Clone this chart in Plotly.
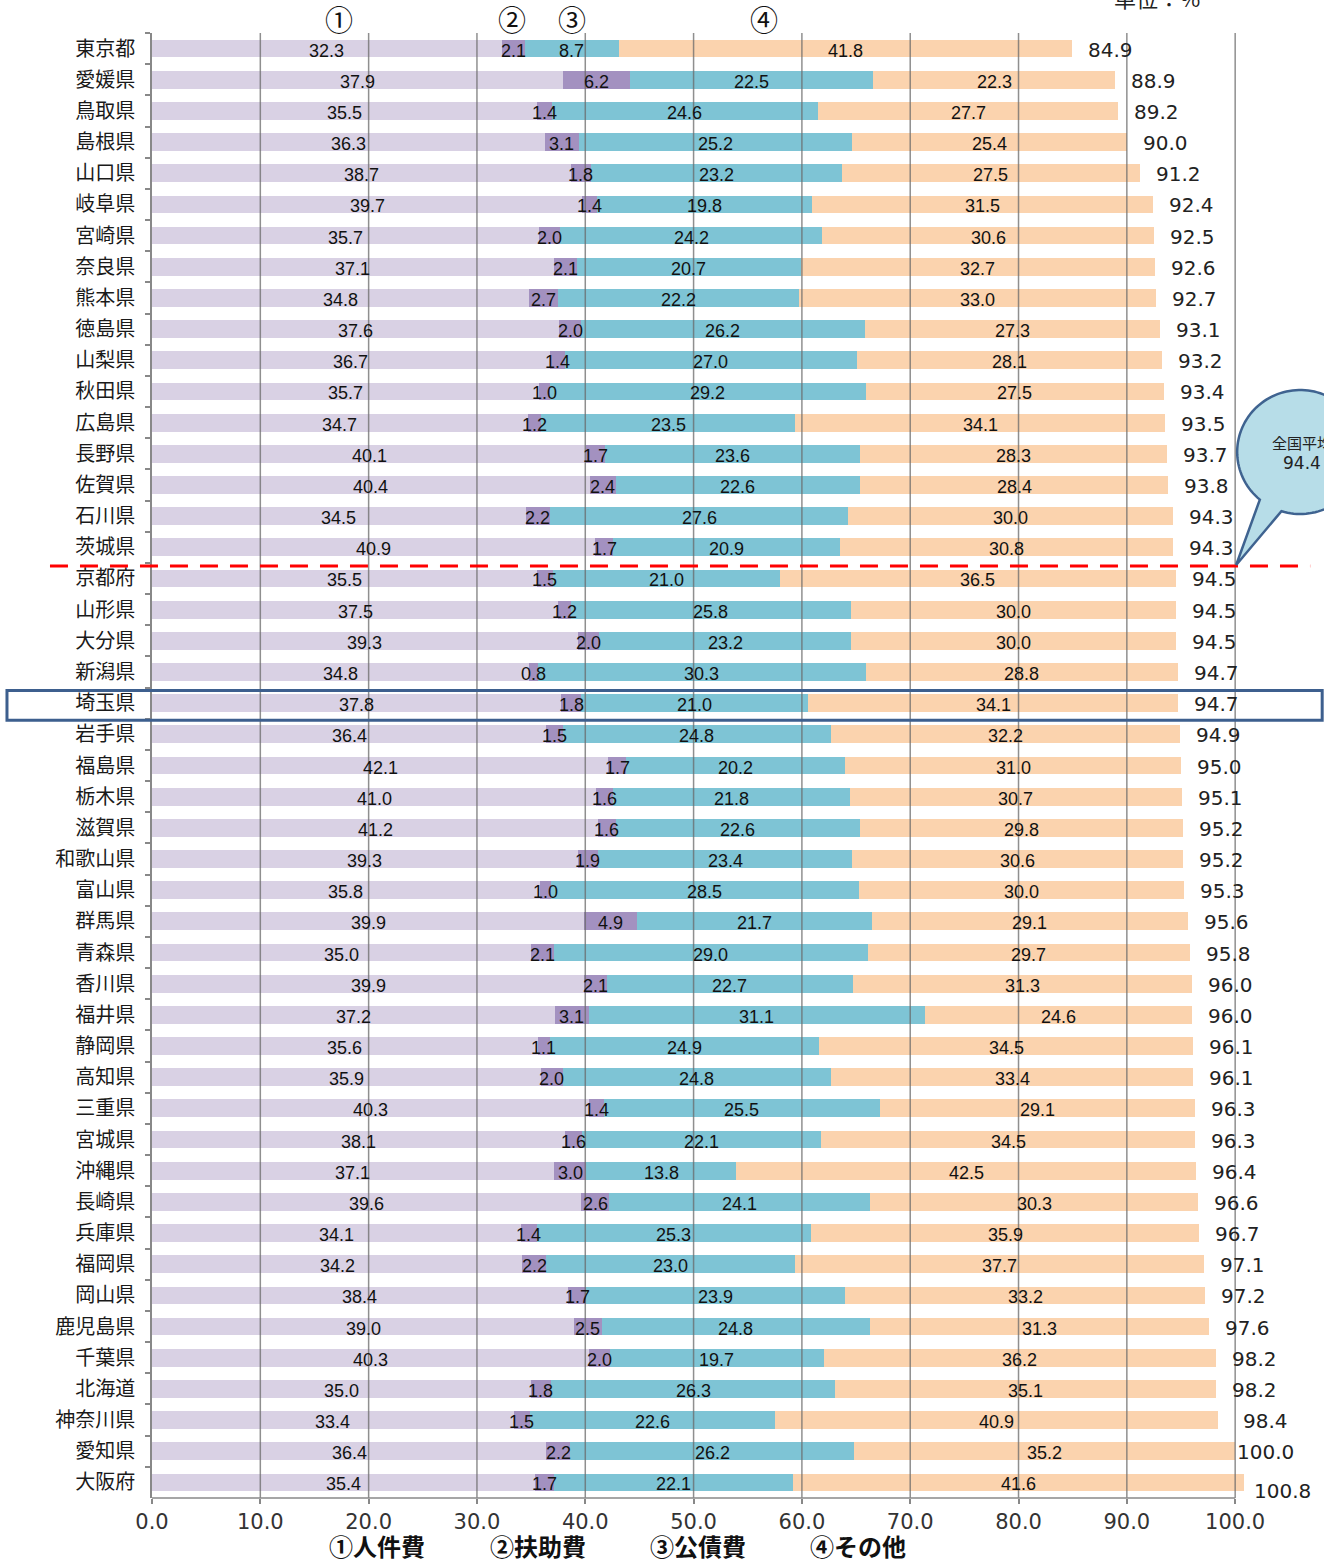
import numpy as np
import plotly.graph_objects as go

# ---- data -------------------------------------------------------------
prefectures = [
    "東京都", "愛媛県", "鳥取県", "島根県", "山口県", "岐阜県", "宮崎県", "奈良県",
    "熊本県", "徳島県", "山梨県", "秋田県", "広島県", "長野県", "佐賀県", "石川県",
    "茨城県", "京都府", "山形県", "大分県", "新潟県", "埼玉県", "岩手県", "福島県",
    "栃木県", "滋賀県", "和歌山県", "富山県", "群馬県", "青森県", "香川県", "福井県",
    "静岡県", "高知県", "三重県", "宮城県", "沖縄県", "長崎県", "兵庫県", "福岡県",
    "岡山県", "鹿児島県", "千葉県", "北海道", "神奈川県", "愛知県", "大阪府",
]
personnel = [  # ①人件費
    32.3, 37.9, 35.5, 36.3, 38.7, 39.7, 35.7, 37.1, 34.8, 37.6, 36.7, 35.7,
    34.7, 40.1, 40.4, 34.5, 40.9, 35.5, 37.5, 39.3, 34.8, 37.8, 36.4, 42.1,
    41.0, 41.2, 39.3, 35.8, 39.9, 35.0, 39.9, 37.2, 35.6, 35.9, 40.3, 38.1,
    37.1, 39.6, 34.1, 34.2, 38.4, 39.0, 40.3, 35.0, 33.4, 36.4, 35.4,
]
assistance = [  # ②扶助費
    2.1, 6.2, 1.4, 3.1, 1.8, 1.4, 2.0, 2.1, 2.7, 2.0, 1.4, 1.0,
    1.2, 1.7, 2.4, 2.2, 1.7, 1.5, 1.2, 2.0, 0.8, 1.8, 1.5, 1.7,
    1.6, 1.6, 1.9, 1.0, 4.9, 2.1, 2.1, 3.1, 1.1, 2.0, 1.4, 1.6,
    3.0, 2.6, 1.4, 2.2, 1.7, 2.5, 2.0, 1.8, 1.5, 2.2, 1.7,
]
debt = [  # ③公債費
    8.7, 22.5, 24.6, 25.2, 23.2, 19.8, 24.2, 20.7, 22.2, 26.2, 27.0, 29.2,
    23.5, 23.6, 22.6, 27.6, 20.9, 21.0, 25.8, 23.2, 30.3, 21.0, 24.8, 20.2,
    21.8, 22.6, 23.4, 28.5, 21.7, 29.0, 22.7, 31.1, 24.9, 24.8, 25.5, 22.1,
    13.8, 24.1, 25.3, 23.0, 23.9, 24.8, 19.7, 26.3, 22.6, 26.2, 22.1,
]
other = [  # ④その他
    41.8, 22.3, 27.7, 25.4, 27.5, 31.5, 30.6, 32.7, 33.0, 27.3, 28.1, 27.5,
    34.1, 28.3, 28.4, 30.0, 30.8, 36.5, 30.0, 30.0, 28.8, 34.1, 32.2, 31.0,
    30.7, 29.8, 30.6, 30.0, 29.1, 29.7, 31.3, 24.6, 34.5, 33.4, 29.1, 34.5,
    42.5, 30.3, 35.9, 37.7, 33.2, 31.3, 36.2, 35.1, 40.9, 35.2, 41.6,
]
totals = [
    84.9, 88.9, 89.2, 90.0, 91.2, 92.4, 92.5, 92.6, 92.7, 93.1, 93.2, 93.4,
    93.5, 93.7, 93.8, 94.3, 94.3, 94.5, 94.5, 94.5, 94.7, 94.7, 94.9, 95.0,
    95.1, 95.2, 95.2, 95.3, 95.6, 95.8, 96.0, 96.0, 96.1, 96.1, 96.3, 96.3,
    96.4, 96.6, 96.7, 97.1, 97.2, 97.6, 98.2, 98.2, 98.4, 100.0, 100.8,
]
series_names = ["①人件費", "②扶助費", "③公債費", "④その他"]
header_marks = ["①", "②", "③", "④"]
national_avg = 94.4
highlight = "埼玉県"
x_ticks = [0, 10, 20, 30, 40, 50, 60, 70, 80, 90, 100]

# ---- geometry / style ---------------------------------------------------
W, H = 1324, 1560
L, T, B = 152, 33, 62
X_MAX = 101
PLOT_W = 10.83 * X_MAX
R = W - L - PLOT_W
PLOT_H = H - T - B

colors = ["#D9D1E4", "#A391C0", "#7EC4D5", "#FBD3AE"]
grid_color = "rgba(105,105,105,0.75)"
axis_color = "#888888"
CJK = "Noto Sans CJK JP"
NARROW = "Liberation Sans Narrow, Arial Narrow, Liberation Sans, sans-serif"
ROUND = "DejaVu Sans, sans-serif"


def paper(px, py):
    """pixel position on the page -> paper coordinates"""
    return (px - L) / PLOT_W, (H - B - py) / PLOT_H


series = [personnel, assistance, debt, other]
vals = np.array(series, dtype=float)
lefts = np.vstack([np.zeros(len(prefectures)), np.cumsum(vals, axis=0)[:-1]])

fig = go.Figure()

# stacked segments
for name, v, c in zip(series_names, series, colors):
    fig.add_trace(go.Bar(
        y=prefectures, x=v, orientation="h", name=name,
        marker=dict(color=c, line=dict(width=0)),
        hoverinfo="skip", showlegend=False,
    ))

annotations = []
shapes = []

# value labels centred in each segment
for k, v in enumerate(series):
    for p, left, x in zip(prefectures, lefts[k], v):
        annotations.append(dict(
            x=left + x / 2, y=p, xref="x", yref="y", text=f"{x:.1f}",
            showarrow=False, xanchor="center", yanchor="middle", yshift=-2,
            font=dict(family=NARROW, size=18, color="#111111"),
        ))

# totals to the right of each bar
label_dx = {"神奈川県": 9, "愛知県": -14, "大阪府": -6}
label_dy = {"大阪府": -8}
for p, t in zip(prefectures, totals):
    annotations.append(dict(
        x=t, y=p, xref="x", yref="y", text=f"{t:.1f}", showarrow=False,
        xanchor="left", yanchor="middle",
        xshift=14 + label_dx.get(p, 0), yshift=label_dy.get(p, 0) - 1,
        font=dict(family=ROUND, size=20, color="#222222"),
    ))

# circled column marks above the chart
for mark, xpos in zip(header_marks, [17.25, 33.2, 38.75, 56.5]):
    annotations.append(dict(
        x=xpos, y=paper(0, 19)[1], xref="x", yref="paper", text=mark,
        showarrow=False, xanchor="center", yanchor="middle",
        font=dict(family=CJK, size=28, color="#111111"),
    ))

# unit note
annotations.append(dict(
    x=paper(1157, 0)[0], y=paper(0, -3)[1], xref="paper", yref="paper",
    text="単位：%", showarrow=False, xanchor="center", yanchor="middle",
    font=dict(family=CJK, size=22, color="#222222"),
))

# legend text under the axis
for name, xpos in zip(series_names, [20.8, 35.6, 50.4, 65.2]):
    annotations.append(dict(
        x=xpos, y=paper(0, 1545)[1], xref="x", yref="paper",
        text=f"<b>{name}</b>", showarrow=False, xanchor="center",
        yanchor="middle", font=dict(family=CJK, size=24, color="#111111"),
    ))

# vertical gridlines drawn over the bars
for v in x_ticks[1:]:
    shapes.append(dict(type="line", xref="x", yref="paper", x0=v, x1=v,
                       y0=0, y1=1, layer="above",
                       line=dict(color=grid_color, width=1.5)))
# bottom axis line, 0..100
shapes.append(dict(type="line", xref="x", yref="paper", x0=0, x1=100,
                   y0=0, y1=0, layer="above",
                   line=dict(color=axis_color, width=1.5)))

# national average divider
idx_avg = max(i for i, t in enumerate(totals) if t < national_avg)
x_a, _ = paper(50, 0)
x_b, _ = paper(1310, 0)
shapes.append(dict(type="line", xref="paper", yref="y", x0=x_a, x1=x_b,
                   y0=idx_avg + 0.6, y1=idx_avg + 0.6, layer="above",
                   line=dict(color="#FF0000", width=3, dash="18px,12px")))

# highlighted prefecture frame
idx_h = prefectures.index(highlight)
shapes.append(dict(type="rect", xref="paper", yref="y",
                   x0=paper(7, 0)[0], x1=paper(1322, 0)[0],
                   y0=idx_h - 0.41, y1=idx_h + 0.55, layer="above",
                   line=dict(color="#3D5F8E", width=3),
                   fillcolor="rgba(0,0,0,0)"))

# speech bubble for the national average
cx, cy, rx, ry = 1300, 452, 63, 62
tip = (1236, 565)
ts = np.radians(np.linspace(129.8, 467.3, 120))
pts = [paper(cx + rx * np.cos(t), cy + ry * np.sin(t)) for t in ts]
pts.append(paper(*tip))
path = "M " + " L ".join(f"{x:.5f},{y:.5f}" for x, y in pts) + " Z"
shapes.append(dict(type="path", xref="paper", yref="paper", path=path,
                   layer="above", fillcolor="#B7DDE8",
                   line=dict(color="#3F6390", width=2.5)))
annotations.append(dict(
    x=paper(1302, 0)[0], y=paper(0, 443)[1], xref="paper", yref="paper",
    text="全国平均", showarrow=False, xanchor="center", yanchor="middle",
    font=dict(family=CJK, size=15, color="#222222"),
))
annotations.append(dict(
    x=paper(1302, 0)[0], y=paper(0, 463)[1], xref="paper", yref="paper",
    text=f"{national_avg:.1f}", showarrow=False, xanchor="center",
    yanchor="middle", font=dict(family=ROUND, size=17, color="#222222"),
))

fig.update_layout(
    width=W, height=H,
    margin=dict(l=L, r=R, t=T, b=B, pad=0),
    barmode="stack", bargap=0.43,
    plot_bgcolor="white", paper_bgcolor="white",
    showlegend=False,
    xaxis=dict(
        range=[0, X_MAX], tickvals=x_ticks,
        ticktext=[f"{v:.1f}" for v in x_ticks],
        showgrid=False, zeroline=False, showline=False,
        ticks="outside", ticklen=5, tickcolor=axis_color, tickwidth=1.5,
        ticklabelstandoff=0,
        tickfont=dict(family=ROUND, size=21, color="#333333"),
    ),
    yaxis=dict(
        type="category", categoryorder="array", categoryarray=prefectures,
        range=[len(prefectures) - 0.5, -0.5],
        showgrid=False, zeroline=False,
        showline=True, linecolor=axis_color, linewidth=1.5,
        ticks="outside", tickson="boundaries", ticklen=5,
        tickcolor=axis_color, tickwidth=1.5, ticklabelstandoff=11,
        tickfont=dict(family=CJK, size=20, color="#1A1A1A"),
    ),
    annotations=annotations,
    shapes=shapes,
)

fig.write_html("out.html")
